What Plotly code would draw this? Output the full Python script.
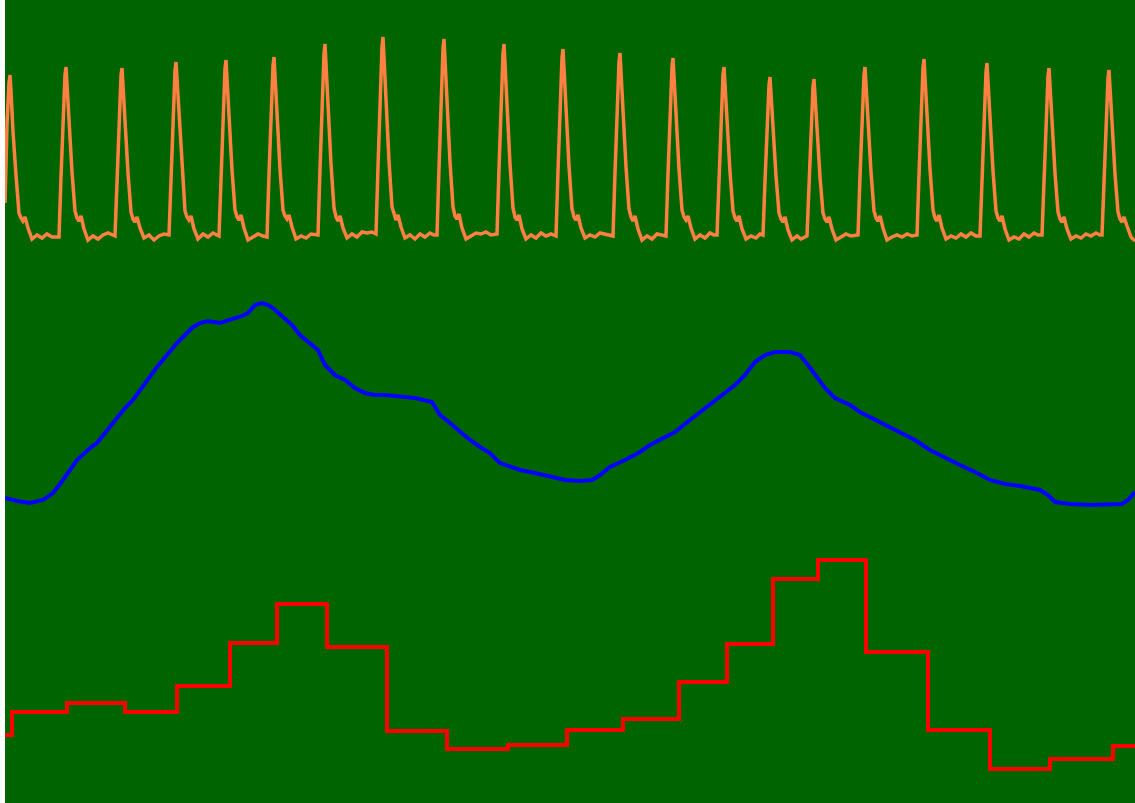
import plotly.graph_objects as go

# ---- Orange: pulse (PPG-like) signal, per-beat samples ----
pulse_t = [
    5, 7, 9, 10, 11, 13, 16, 19, 21, 23, 25, 28, 32, 37, 42, 47, 52,
    59, 61, 63, 65, 66, 67, 69, 72, 75, 77, 79, 81, 84, 88, 93, 98, 103, 108,
    115, 117, 119, 121, 122, 123, 125, 128, 131, 133, 135, 137, 140, 144, 149, 154, 159, 164,
    169, 171, 173, 175, 176, 177, 179, 182, 185, 187, 189, 191, 194, 198, 203, 208, 213,
    219, 221, 223, 225, 226, 227, 229, 232, 235, 237, 239, 241, 244, 248, 253, 258, 263,
    267, 269, 271, 273, 274, 275, 277, 280, 283, 285, 287, 289, 292, 296, 301, 306, 311, 315,
    318, 320, 322, 324, 325, 326, 328, 331, 334, 336, 338, 340, 343, 347, 352, 357, 362, 367, 372,
    376, 378, 380, 382, 383, 384, 386, 389, 392, 394, 396, 398, 401, 405, 410, 415, 420, 425, 430, 434,
    437, 439, 441, 443, 444, 445, 447, 450, 453, 455, 457, 459, 462, 466, 471, 476, 481, 486, 491, 495,
    497, 499, 501, 503, 504, 505, 507, 510, 513, 515, 517, 519, 522, 526, 531, 536, 541, 546, 551, 555,
    556, 558, 560, 562, 563, 564, 566, 569, 572, 574, 576, 578, 581, 585, 590, 595, 600, 605, 610,
    613, 615, 617, 619, 620, 621, 623, 626, 629, 631, 633, 635, 638, 642, 647, 652, 657, 662,
    666, 668, 670, 672, 673, 674, 676, 679, 682, 684, 686, 688, 691, 695, 700, 705, 710, 714,
    717, 719, 721, 723, 724, 725, 727, 730, 733, 735, 737, 739, 742, 746, 751, 756, 760,
    763, 765, 767, 769, 770, 771, 773, 776, 779, 781, 783, 785, 788, 792, 797, 801,
    807, 809, 811, 813, 814, 815, 817, 820, 823, 825, 827, 829, 832, 836, 841, 846, 851, 855,
    858, 860, 862, 864, 865, 866, 868, 871, 874, 876, 878, 880, 883, 887, 892, 897, 902, 907, 912, 916,
    917, 919, 921, 923, 924, 925, 927, 930, 933, 935, 937, 939, 942, 946, 951, 956, 961, 966, 971, 976,
    980, 982, 984, 986, 987, 988, 990, 993, 996, 998, 1000, 1002, 1005, 1009, 1014, 1019, 1024, 1029, 1034, 1038,
    1042, 1044, 1046, 1048, 1049, 1050, 1052, 1055, 1058, 1060, 1062, 1064, 1067, 1071, 1076, 1081, 1086, 1091, 1096, 1100,
    1102, 1104, 1106, 1108, 1109, 1110, 1112, 1115, 1118, 1120, 1122, 1124, 1127, 1131, 1135,
]
pulse_v = [
    600, 679, 720, 728, 712, 671, 628, 590, 585, 582, 586, 575, 564, 568, 565, 569, 566,
    566, 626, 685, 728, 736, 719, 677, 631, 592, 585, 582, 587, 574, 563, 567, 564, 568, 570,
    567, 625, 684, 727, 735, 718, 676, 630, 591, 584, 581, 586, 575, 565, 568, 563, 567, 569,
    568, 627, 689, 732, 741, 724, 680, 633, 592, 586, 583, 587, 574, 564, 569, 566, 570,
    567, 628, 690, 734, 743, 725, 681, 633, 593, 586, 583, 588, 575, 563, 566, 569, 567,
    566, 629, 692, 737, 746, 728, 683, 634, 593, 587, 584, 588, 576, 564, 567, 565, 569, 568,
    568, 634, 701, 749, 759, 740, 691, 639, 595, 586, 582, 587, 575, 565, 569, 566, 571, 570, 571,
    569, 636, 706, 756, 766, 746, 696, 642, 596, 588, 583, 588, 576, 565, 568, 564, 569, 566, 570, 568,
    568, 635, 705, 754, 764, 744, 695, 641, 596, 587, 584, 589, 575, 564, 567, 570, 569, 571, 568, 569,
    569, 634, 701, 749, 759, 740, 691, 639, 595, 586, 583, 588, 574, 564, 568, 565, 570, 567, 569, 568,
    567, 632, 698, 745, 754, 735, 688, 637, 594, 586, 583, 588, 575, 565, 568, 566, 570, 569, 568,
    567, 630, 695, 741, 750, 732, 686, 636, 594, 586, 582, 587, 574, 563, 567, 564, 569, 568,
    567, 629, 691, 736, 745, 727, 682, 634, 593, 586, 583, 587, 575, 564, 568, 565, 570, 568,
    568, 626, 685, 728, 736, 719, 677, 631, 592, 585, 582, 587, 574, 564, 567, 565, 569,
    568, 622, 678, 718, 726, 710, 670, 627, 590, 584, 581, 586, 573, 563, 567, 564,
    567, 621, 677, 716, 724, 708, 669, 626, 590, 584, 581, 586, 574, 563, 566, 569, 567, 568,
    568, 626, 685, 728, 736, 719, 677, 631, 592, 585, 582, 587, 575, 563, 566, 568, 566, 569, 567, 568,
    568, 628, 691, 735, 744, 726, 682, 634, 593, 585, 582, 588, 575, 564, 567, 565, 569, 566, 570, 567,
    567, 627, 688, 731, 740, 723, 679, 632, 592, 585, 582, 587, 574, 563, 566, 564, 569, 566, 570, 568,
    568, 625, 684, 727, 735, 718, 676, 630, 591, 584, 581, 586, 574, 564, 567, 565, 569, 567, 570, 568,
    568, 624, 683, 725, 733, 716, 675, 629, 591, 584, 581, 586, 577, 566, 562,
]

# ---- Blue: slow respiratory-like wave ----
resp_t = [5, 17, 30, 43, 53, 63, 77, 90, 97, 107, 117, 125, 133, 147, 157, 167, 177, 185,
          193, 200, 208, 220, 233, 242, 248, 255, 262, 268, 273, 283, 292, 300, 310, 318,
          325, 335, 345, 355, 365, 375, 385, 400, 415, 432, 440, 450, 460, 470, 480, 490,
          500, 510, 520, 535, 550, 565, 580, 592, 600, 610, 625, 640, 650, 665, 675, 690,
          705, 720, 735, 745, 755, 765, 775, 790, 800, 808, 815, 825, 835, 850, 860, 870,
          885, 900, 915, 930, 945, 960, 975, 990, 1005, 1020, 1040, 1048, 1055, 1070, 1090,
          1110, 1122, 1128, 1135]
resp_v = [305, 302, 300, 303, 310, 323, 343, 355, 360, 373, 386, 395, 403, 423, 436, 448, 460, 468,
          476, 480, 482, 480, 484, 487, 490, 498, 500, 498, 495, 486, 478, 468, 460, 453,
          438, 428, 423, 415, 410, 408, 408, 407, 405, 401, 388, 380, 371, 363, 356, 350,
          340, 336, 333, 330, 326, 323, 322, 323, 328, 336, 343, 351, 358, 366, 371, 383,
          395, 406, 418, 428, 441, 448, 451, 451, 448, 438, 428, 415, 405, 398, 391, 386,
          378, 371, 363, 353, 345, 338, 331, 323, 319, 317, 313, 308, 301, 299, 298,
          298, 299, 303, 311]

# ---- Red: beat-to-beat rate (step) ----
rate_t = [5, 12, 67, 125, 177, 230, 277, 327, 387, 447, 508, 567, 623, 679, 727, 773,
          818, 866, 928, 990, 1050, 1113, 1135]
rate_v = [68, 91, 100, 91, 117, 160, 199, 156, 72, 54, 58, 73, 84, 121, 159, 224,
          243, 151, 73, 34, 44, 57, 57]

fig = go.Figure()
fig.add_trace(go.Scatter(x=pulse_t, y=pulse_v, mode="lines",
                         line=dict(color="#FF8040", width=3.5), hoverinfo="skip"))
fig.add_trace(go.Scatter(x=resp_t, y=resp_v, mode="lines",
                         line=dict(color="#0000FF", width=4), hoverinfo="skip"))
fig.add_trace(go.Scatter(x=rate_t, y=rate_v, mode="lines",
                         line=dict(color="#FF0000", width=4, shape="hv"), hoverinfo="skip"))

fig.update_layout(
    width=1135, height=803,
    margin=dict(l=5, r=0, t=0, b=0, pad=0),
    paper_bgcolor="white",
    plot_bgcolor="#006400",
    showlegend=False,
    xaxis=dict(range=[5, 1135], visible=False, fixedrange=True),
    yaxis=dict(range=[0, 803], visible=False, fixedrange=True),
)

fig.write_html("out.html", config={"displayModeBar": False},
               post_script="document.body.style.margin='0';")
